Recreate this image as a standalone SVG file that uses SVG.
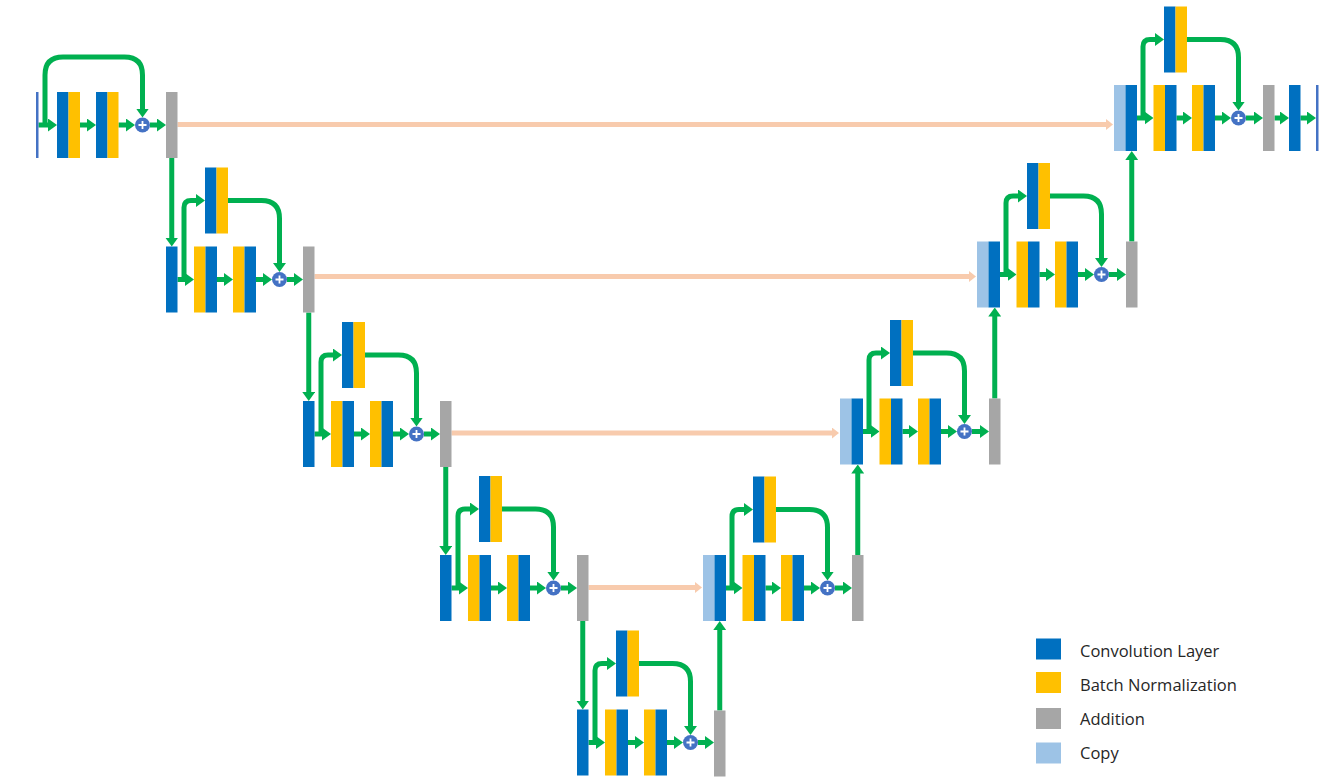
<svg xmlns="http://www.w3.org/2000/svg" width="1327" height="782" viewBox="0 0 1327 782">
<defs>
<style>
.cv{fill:#0070C0}.bn{fill:#FFC000}.ad{fill:#A6A6A6}.cp{fill:#9DC3E6}.th{fill:#4472C4}
.g{fill:none;stroke:#00B050;stroke-width:5;marker-end:url(#ga)}
.o{fill:none;stroke:#F8CBAD;stroke-width:5;marker-end:url(#oa)}
.pc{fill:#4472C4}.pl{stroke:#fff;stroke-width:1.8}
.lt{font-family:"Open Sans","Liberation Sans",sans-serif;font-size:16.5px;fill:#262626}
</style>
<marker id="ga" markerUnits="userSpaceOnUse" markerWidth="9" markerHeight="13" refX="4" refY="6.5" orient="auto"><path d="M0,0 L9,6.5 L0,13 z" fill="#00B050"/></marker>
<marker id="oa" markerUnits="userSpaceOnUse" markerWidth="7" markerHeight="11" refX="3" refY="5.5" orient="auto"><path d="M0,0 L7,5.5 L0,11 z" fill="#F8CBAD"/></marker>
<g id="plus"><circle class="pc" r="7.5"/><path class="pl" d="M-4,0 H4 M0,-4 V4"/></g>
</defs>
<rect width="1327" height="782" fill="#fff"/>

<g id="connectors">
<path class="o" d="M177.5,124.5 H1109"/>
<path class="o" d="M314.5,276.5 H972"/>
<path class="o" d="M451.5,433 H835"/>
<path class="o" d="M588.5,587.5 H698"/>
<path class="g" d="M38.5,125 H52"/>
<path class="g" d="M80,125 H91"/>
<path class="g" d="M118.5,125 H130"/>
<path class="g" d="M150,125 H161"/>
<path class="g" d="M45,125 V75 Q45,57 63,57 H124.5 Q142.5,57 142.5,75 V112.5"/>
<path class="g" d="M171.75,158 V241.5"/>
<path class="g" d="M177.5,279.5 H189"/>
<path class="g" d="M217,279.5 H228"/>
<path class="g" d="M256,279.5 H267"/>
<path class="g" d="M287,279.5 H298"/>
<path class="g" d="M184,279.5 V207.5 Q184,200.5 191,200.5 H200"/>
<path class="g" d="M228,200.5 H261.5 Q279.5,200.5 279.5,218.5 V267"/>
<path class="g" d="M308.75,312.5 V396"/>
<path class="g" d="M314.5,434 H326"/>
<path class="g" d="M354,434 H365"/>
<path class="g" d="M393,434 H404"/>
<path class="g" d="M424,434 H435"/>
<path class="g" d="M321,434 V362 Q321,355 328,355 H337"/>
<path class="g" d="M365,355 H398.5 Q416.5,355 416.5,373 V421.5"/>
<path class="g" d="M445.75,467 V550"/>
<path class="g" d="M451.5,588 H463"/>
<path class="g" d="M491,588 H502"/>
<path class="g" d="M530,588 H541"/>
<path class="g" d="M561,588 H572"/>
<path class="g" d="M458,588 V516 Q458,509 465,509 H474"/>
<path class="g" d="M502,509 H535.5 Q553.5,509 553.5,527 V575.5"/>
<path class="g" d="M582.75,621 V704.5"/>
<path class="g" d="M588.5,742.5 H600"/>
<path class="g" d="M628,742.5 H639"/>
<path class="g" d="M667,742.5 H678"/>
<path class="g" d="M698,742.5 H709"/>
<path class="g" d="M595,742.5 V670.5 Q595,663.5 602,663.5 H611"/>
<path class="g" d="M639,663.5 H672.5 Q690.5,663.5 690.5,681.5 V730"/>
<path class="g" d="M719.75,710.5 V626"/>
<path class="g" d="M726,588 H737.5"/>
<path class="g" d="M765.5,588 H776"/>
<path class="g" d="M804,588 H815"/>
<path class="g" d="M835,588 H847"/>
<path class="g" d="M732,588 V516.5 Q732,509.5 739,509.5 H748"/>
<path class="g" d="M776,509.5 H809.5 Q827.5,509.5 827.5,527.5 V575.5"/>
<path class="g" d="M857.75,555 V469.5"/>
<path class="g" d="M863,431.5 H874.5"/>
<path class="g" d="M902.5,431.5 H913"/>
<path class="g" d="M941,431.5 H952"/>
<path class="g" d="M972,431.5 H984"/>
<path class="g" d="M869,431.5 V360 Q869,353 876,353 H885"/>
<path class="g" d="M913,353 H946.5 Q964.5,353 964.5,371 V419"/>
<path class="g" d="M994.75,398.5 V312.5"/>
<path class="g" d="M1000,274.5 H1011.5"/>
<path class="g" d="M1039.5,274.5 H1050"/>
<path class="g" d="M1078,274.5 H1089"/>
<path class="g" d="M1109,274.5 H1121"/>
<path class="g" d="M1006,274.5 V203 Q1006,196 1013,196 H1022"/>
<path class="g" d="M1050,196 H1083.5 Q1101.5,196 1101.5,214 V262"/>
<path class="g" d="M1131.75,241.5 V156"/>
<path class="g" d="M1137,118 H1148.5"/>
<path class="g" d="M1176.5,118 H1187"/>
<path class="g" d="M1215,118 H1226"/>
<path class="g" d="M1246,118 H1258"/>
<path class="g" d="M1143,118 V46.5 Q1143,39.5 1150,39.5 H1159"/>
<path class="g" d="M1187,39.5 H1220.5 Q1238.5,39.5 1238.5,57.5 V105.5"/>
<path class="g" d="M1274.5,118 H1284"/>
<path class="g" d="M1300.5,118 H1311"/>
</g>

<g id="enc1">
<rect class="th" x="36" y="92" width="2.5" height="66"/>
<rect class="cv" x="57" y="92" width="11.5" height="66"/><rect class="bn" x="68.5" y="92" width="11.5" height="66"/>
<rect class="cv" x="96" y="92" width="11.5" height="66"/><rect class="bn" x="107.5" y="92" width="11" height="66"/>
<use href="#plus" x="142.5" y="125"/>
<rect class="ad" x="166" y="92" width="11.5" height="66"/>
</g>

<g id="enc2">
<rect class="cv" x="166" y="246.5" width="11.5" height="66"/>
<rect class="bn" x="194" y="246.5" width="11.5" height="66"/><rect class="cv" x="205.5" y="246.5" width="11.5" height="66"/>
<rect class="bn" x="233" y="246.5" width="11.5" height="66"/><rect class="cv" x="244.5" y="246.5" width="11.5" height="66"/>
<rect class="cv" x="205" y="167.5" width="11.5" height="66"/><rect class="bn" x="216.5" y="167.5" width="11.5" height="66"/>
<use href="#plus" x="279.5" y="279.5"/>
<rect class="ad" x="303" y="246.5" width="11.5" height="66"/>
</g>

<g id="enc3">
<rect class="cv" x="303" y="401" width="11.5" height="66"/>
<rect class="bn" x="331" y="401" width="11.5" height="66"/><rect class="cv" x="342.5" y="401" width="11.5" height="66"/>
<rect class="bn" x="370" y="401" width="11.5" height="66"/><rect class="cv" x="381.5" y="401" width="11.5" height="66"/>
<rect class="cv" x="342" y="322" width="11.5" height="66"/><rect class="bn" x="353.5" y="322" width="11.5" height="66"/>
<use href="#plus" x="416.5" y="434"/>
<rect class="ad" x="440" y="401" width="11.5" height="66"/>
</g>

<g id="enc4">
<rect class="cv" x="440" y="555" width="11.5" height="66"/>
<rect class="bn" x="468" y="555" width="11.5" height="66"/><rect class="cv" x="479.5" y="555" width="11.5" height="66"/>
<rect class="bn" x="507" y="555" width="11.5" height="66"/><rect class="cv" x="518.5" y="555" width="11.5" height="66"/>
<rect class="cv" x="479" y="476" width="11.5" height="66"/><rect class="bn" x="490.5" y="476" width="11.5" height="66"/>
<use href="#plus" x="553.5" y="588"/>
<rect class="ad" x="577" y="555" width="11.5" height="66"/>
</g>

<g id="bottom">
<rect class="cv" x="577" y="709.5" width="11.5" height="66"/>
<rect class="bn" x="605" y="709.5" width="11.5" height="66"/><rect class="cv" x="616.5" y="709.5" width="11.5" height="66"/>
<rect class="bn" x="644" y="709.5" width="11.5" height="66"/><rect class="cv" x="655.5" y="709.5" width="11.5" height="66"/>
<rect class="cv" x="616" y="630.5" width="11.5" height="66"/><rect class="bn" x="627.5" y="630.5" width="11.5" height="66"/>
<use href="#plus" x="690.5" y="742.5"/>
<rect class="ad" x="714" y="710.5" width="11.5" height="66"/>
</g>

<g id="dec4">
<rect class="cp" x="703" y="555" width="11.5" height="66"/><rect class="cv" x="714.5" y="555" width="11.5" height="66"/>
<rect class="bn" x="742.5" y="555" width="11.5" height="66"/><rect class="cv" x="754" y="555" width="11.5" height="66"/>
<rect class="bn" x="781" y="555" width="11.5" height="66"/><rect class="cv" x="792.5" y="555" width="11.5" height="66"/>
<rect class="cv" x="753" y="476.5" width="11.5" height="66"/><rect class="bn" x="764.5" y="476.5" width="11.5" height="66"/>
<use href="#plus" x="827.5" y="588"/>
<rect class="ad" x="852" y="555" width="11.5" height="66"/>
</g>

<g id="dec3">
<rect class="cp" x="840" y="398.5" width="11.5" height="66"/><rect class="cv" x="851.5" y="398.5" width="11.5" height="66"/>
<rect class="bn" x="879.5" y="398.5" width="11.5" height="66"/><rect class="cv" x="891" y="398.5" width="11.5" height="66"/>
<rect class="bn" x="918" y="398.5" width="11.5" height="66"/><rect class="cv" x="929.5" y="398.5" width="11.5" height="66"/>
<rect class="cv" x="890" y="320" width="11.5" height="66"/><rect class="bn" x="901.5" y="320" width="11.5" height="66"/>
<use href="#plus" x="964.5" y="431.5"/>
<rect class="ad" x="989" y="398.5" width="11.5" height="66"/>
</g>

<g id="dec2">
<rect class="cp" x="977" y="241.5" width="11.5" height="66"/><rect class="cv" x="988.5" y="241.5" width="11.5" height="66"/>
<rect class="bn" x="1016.5" y="241.5" width="11.5" height="66"/><rect class="cv" x="1028" y="241.5" width="11.5" height="66"/>
<rect class="bn" x="1055" y="241.5" width="11.5" height="66"/><rect class="cv" x="1066.5" y="241.5" width="11.5" height="66"/>
<rect class="cv" x="1027" y="163" width="11.5" height="66"/><rect class="bn" x="1038.5" y="163" width="11.5" height="66"/>
<use href="#plus" x="1101.5" y="274.5"/>
<rect class="ad" x="1126" y="241.5" width="11.5" height="66"/>
</g>

<g id="dec1">
<rect class="cp" x="1114" y="85" width="11.5" height="66"/><rect class="cv" x="1125.5" y="85" width="11.5" height="66"/>
<rect class="bn" x="1153.5" y="85" width="11.5" height="66"/><rect class="cv" x="1165" y="85" width="11.5" height="66"/>
<rect class="bn" x="1192" y="85" width="11.5" height="66"/><rect class="cv" x="1203.5" y="85" width="11.5" height="66"/>
<rect class="cv" x="1164" y="6.5" width="11.5" height="66"/><rect class="bn" x="1175.5" y="6.5" width="11.5" height="66"/>
<use href="#plus" x="1238.5" y="118"/>
<rect class="ad" x="1263" y="85" width="11.5" height="66"/>
<rect class="cv" x="1289" y="85" width="11.5" height="66"/>
<rect class="th" x="1316" y="85" width="2.5" height="66"/>
</g>

<g id="legend">
<rect class="cv" x="1036" y="638.5" width="25" height="21"/>
<rect class="bn" x="1036" y="672" width="25" height="21"/>
<rect class="ad" x="1036" y="708" width="25" height="21"/>
<rect class="cp" x="1036" y="742.5" width="25" height="21"/>
<text class="lt" x="1080" y="657">Convolution Layer</text>
<text class="lt" x="1080" y="691">Batch Normalization</text>
<text class="lt" x="1080" y="725">Addition</text>
<text class="lt" x="1080" y="759">Copy</text>
</g>
</svg>
